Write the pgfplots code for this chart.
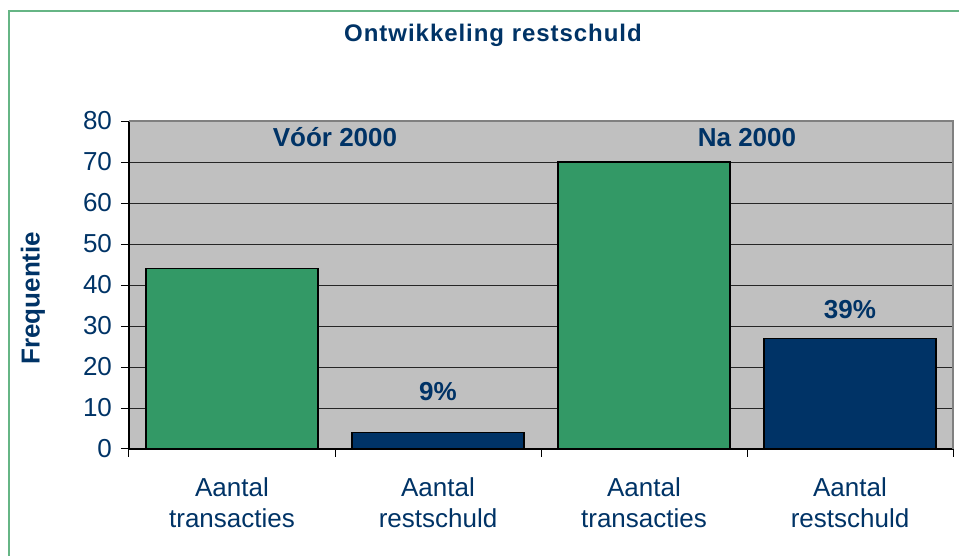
\documentclass[border=0pt]{standalone}
\usepackage{fontspec}
\setmainfont{Liberation Sans}
\usepackage{pgfplots}
\pgfplotsset{compat=1.18}
\definecolor{xlGreen}{HTML}{339966}
\definecolor{xlNavy}{HTML}{003366}
\definecolor{xlGray}{HTML}{C0C0C0}
\definecolor{xlFrame}{HTML}{66B585}

\begin{document}
\begin{tikzpicture}
\useasboundingbox (-64.5pt,-53.5pt) rectangle (415pt,224.5pt);
\draw[xlFrame,line width=0.8pt] (-60pt,-60pt) -- (-60pt,219pt) -- (420pt,219pt);
\node[font=\fontsize{12}{14}\selectfont\bfseries\addfontfeature{LetterSpace=4},text=xlNavy] at (182pt,207pt) {Ontwikkeling restschuld};
\begin{axis}[
  at={(0pt,0pt)},anchor=south west,
  scale only axis,width=412pt,height=164pt,
  ybar,bar width=0.835,
  xmin=-0.5,xmax=3.5,ymin=0,ymax=80,
  ytick={0,10,...,80},
  xtick={-0.5,0.5,1.5,2.5,3.5},xticklabels={},
  extra x ticks={0,1,2,3},
  extra x tick labels={Aantal\\transacties,Aantal\\restschuld,Aantal\\transacties,Aantal\\restschuld},
  extra x tick style={major tick length=0pt,grid=none},
  tick align=outside,tick pos=left,
  major tick length=4pt,
  tick style={black,line width=0.5pt},
  ymajorgrids,grid style={black!85,line width=0.5pt},
  axis background/.style={fill=xlGray},
  axis x line*=bottom,axis y line*=left,
  axis line style={black,line width=0.6pt},
  x axis line style={-},y axis line style={-},
  /pgf/number format/assume math mode=true,
  tick label style={font=\fontsize{13}{15.5}\selectfont,text=xlNavy},
  x tick label style={align=center,yshift=-11pt},
  yticklabel style={xshift=-1pt},
  ylabel={\bfseries Frequentie},
  ylabel style={font=\fontsize{13}{14}\selectfont,text=xlNavy,at={(axis description cs:-0.1165,0.46)},anchor=center},
  after end axis/.code={
    \draw[black!50,line width=0.75pt] (rel axis cs:0,1) -- (rel axis cs:1,1) -- (rel axis cs:1,0);
  },
]
\addplot[bar shift=0pt,fill=xlGreen,draw=black,line width=0.75pt] coordinates {(0,44) (2,70)};
\addplot[bar shift=0pt,fill=xlNavy,draw=black,line width=0.75pt] coordinates {(1,4) (3,27)};
\node[font=\fontsize{13}{15}\selectfont\bfseries,text=xlNavy] at (axis cs:0.5,76) {Vóór 2000};
\node[font=\fontsize{13}{15}\selectfont\bfseries,text=xlNavy] at (axis cs:2.5,76) {Na 2000};
\node[font=\fontsize{13}{15}\selectfont\bfseries,text=xlNavy] at (axis cs:1,14) {9\%};
\node[font=\fontsize{13}{15}\selectfont\bfseries,text=xlNavy] at (axis cs:3,34) {39\%};
\end{axis}
\end{tikzpicture}
\end{document}
